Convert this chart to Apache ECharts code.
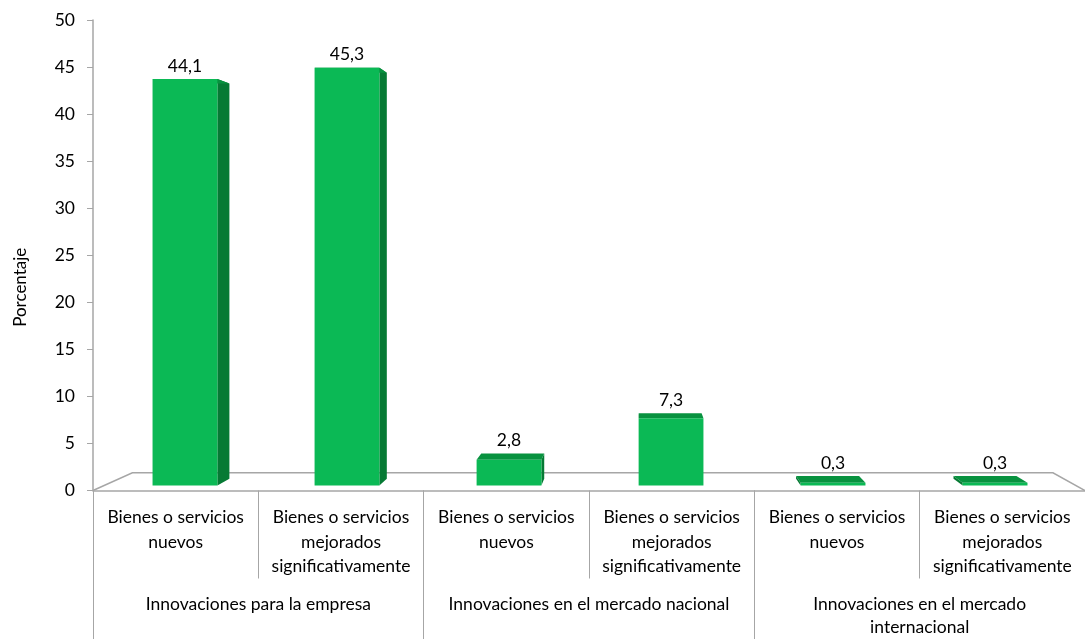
<!DOCTYPE html>
<html><head><meta charset="utf-8">
<script src="https://cdn.jsdelivr.net/npm/echarts@6/dist/echarts.min.js"></script>
<style>html,body{margin:0;padding:0;background:#fff}#c{width:1085px;height:639px}</style>
</head><body><div id="c"></div>
<script>
const subCategories = [
  'Bienes o servicios\nnuevos',
  'Bienes o servicios\nmejorados\nsignificativamente',
  'Bienes o servicios\nnuevos',
  'Bienes o servicios\nmejorados\nsignificativamente',
  'Bienes o servicios\nnuevos',
  'Bienes o servicios\nmejorados\nsignificativamente'
];
const groupCategories = [
  'Innovaciones para la empresa',
  'Innovaciones en el mercado nacional',
  'Innovaciones en el mercado\ninternacional'
];
const values = [44.1, 45.3, 2.8, 7.3, 0.3, 0.3];
const yTicks = { min: 0, max: 50, interval: 5 };
const yTitle = 'Porcentaje';

const FONT = 'Lato';
const FS = 17.5;
const VP = [640, 244];      // perspective vanishing point
const D_FRONT = 0.02;       // bar front plane depth
const D_BAR = 0.0285;       // bar depth
const D_FLOOR = 0.072;      // floor depth
const COL_FRONT = '#0bb955', COL_SIDE = '#067a34', COL_TOP = '#08923f';

function proj(p, d) { return [p[0] + d * (VP[0] - p[0]), p[1] + d * (VP[1] - p[1])]; }

const chart = echarts.init(document.getElementById('c'), null, { renderer: 'canvas' });
chart.setOption({
  animation: false,
  textStyle: { fontFamily: FONT },
  grid: { left: 93, right: -8, top: 20, bottom: 145, containLabel: false },
  yAxis: {
    type: 'value', min: yTicks.min, max: yTicks.max, interval: yTicks.interval,
    name: yTitle, nameLocation: 'middle', nameRotate: 90, nameGap: 64,
    nameTextStyle: { fontSize: 17, color: '#000', fontFamily: FONT, padding: [0, 64, 0, 0] },
    axisLine: { show: true, lineStyle: { color: '#a6a6a6', width: 1.5 } },
    axisTick: { show: true, length: 6, lineStyle: { color: '#a6a6a6' } },
    axisLabel: { fontSize: FS, color: '#000', margin: 18, fontFamily: FONT },
    splitLine: { show: false }
  },
  xAxis: [
    {
      type: 'category', data: subCategories, position: 'bottom',
      axisLine: { show: true, lineStyle: { color: '#a6a6a6', width: 1.5 } },
      axisTick: { show: true, length: 88, lineStyle: { color: '#a6a6a6' } },
      axisLabel: { fontSize: FS, color: '#000', margin: 15, lineHeight: 24.5, fontFamily: FONT, interval: 0, verticalAlign: 'top' }
    },
    {
      type: 'category', data: groupCategories, position: 'bottom',
      axisLine: { show: false },
      axisTick: { show: true, length: 150, lineStyle: { color: '#a6a6a6' } },
      axisLabel: { fontSize: FS, color: '#000', margin: 102.5, lineHeight: 23, fontFamily: FONT, interval: 0, verticalAlign: 'top' }
    }
  ],
  series: [
    {
      type: 'custom', xAxisIndex: 0, data: [[0, 0]], silent: true, z: 1,
      renderItem: function (params, api) {
        const cs = params.coordSys;
        const y0 = api.coord([0, 0])[1];
        const fl = [cs.x, y0], fr = [cs.x + cs.width, y0];
        const bl = proj(fl, D_FLOOR), br = proj(fr, D_FLOOR);
        return {
          type: 'polyline',
          shape: { points: [fl, bl, br, fr] },
          style: { stroke: '#a6a6a6', lineWidth: 1.5, fill: null }
        };
      }
    },
    {
      type: 'custom', xAxisIndex: 0, z: 2,
      data: values.map((v, i) => [i, v]),
      renderItem: function (params, api) {
        const i = api.value(0), v = api.value(1);
        const base = api.coord([i, 0]), top = api.coord([i, v]);
        const bw = api.size([1, 0])[0] * 0.4;
        const FLb = proj([base[0] - bw / 2, base[1]], D_FRONT);
        const FRb = proj([base[0] + bw / 2, base[1]], D_FRONT);
        const FLt = proj([base[0] - bw / 2, top[1]], D_FRONT);
        const FRt = proj([base[0] + bw / 2, top[1]], D_FRONT);
        const BLb = proj(FLb, D_BAR), BRb = proj(FRb, D_BAR);
        const BLt = proj(FLt, D_BAR), BRt = proj(FRt, D_BAR);
        const children = [];
        if (VP[0] > FRb[0]) children.push({ type: 'polygon', shape: { points: [FRb, FRt, BRt, BRb] }, style: { fill: COL_SIDE } });
        if (VP[0] < FLb[0]) children.push({ type: 'polygon', shape: { points: [FLb, FLt, BLt, BLb] }, style: { fill: COL_SIDE } });
        children.push({ type: 'polygon', shape: { points: [FLt, FRt, BRt, BLt] }, style: { fill: COL_TOP } });
        children.push({ type: 'polygon', shape: { points: [FLb, FRb, FRt, FLt] }, style: { fill: COL_FRONT } });
        const topY = Math.min(FLt[1], BLt[1]);
        children.push({
          type: 'text',
          style: {
            x: (FLt[0] + FRt[0]) / 2, y: topY - 4,
            text: v.toFixed(1).replace('.', ','),
            align: 'center', verticalAlign: 'bottom',
            fontSize: FS, fill: '#000', fontFamily: FONT
          }
        });
        return { type: 'group', children: children };
      }
    }
  ]
});
</script></body></html>
